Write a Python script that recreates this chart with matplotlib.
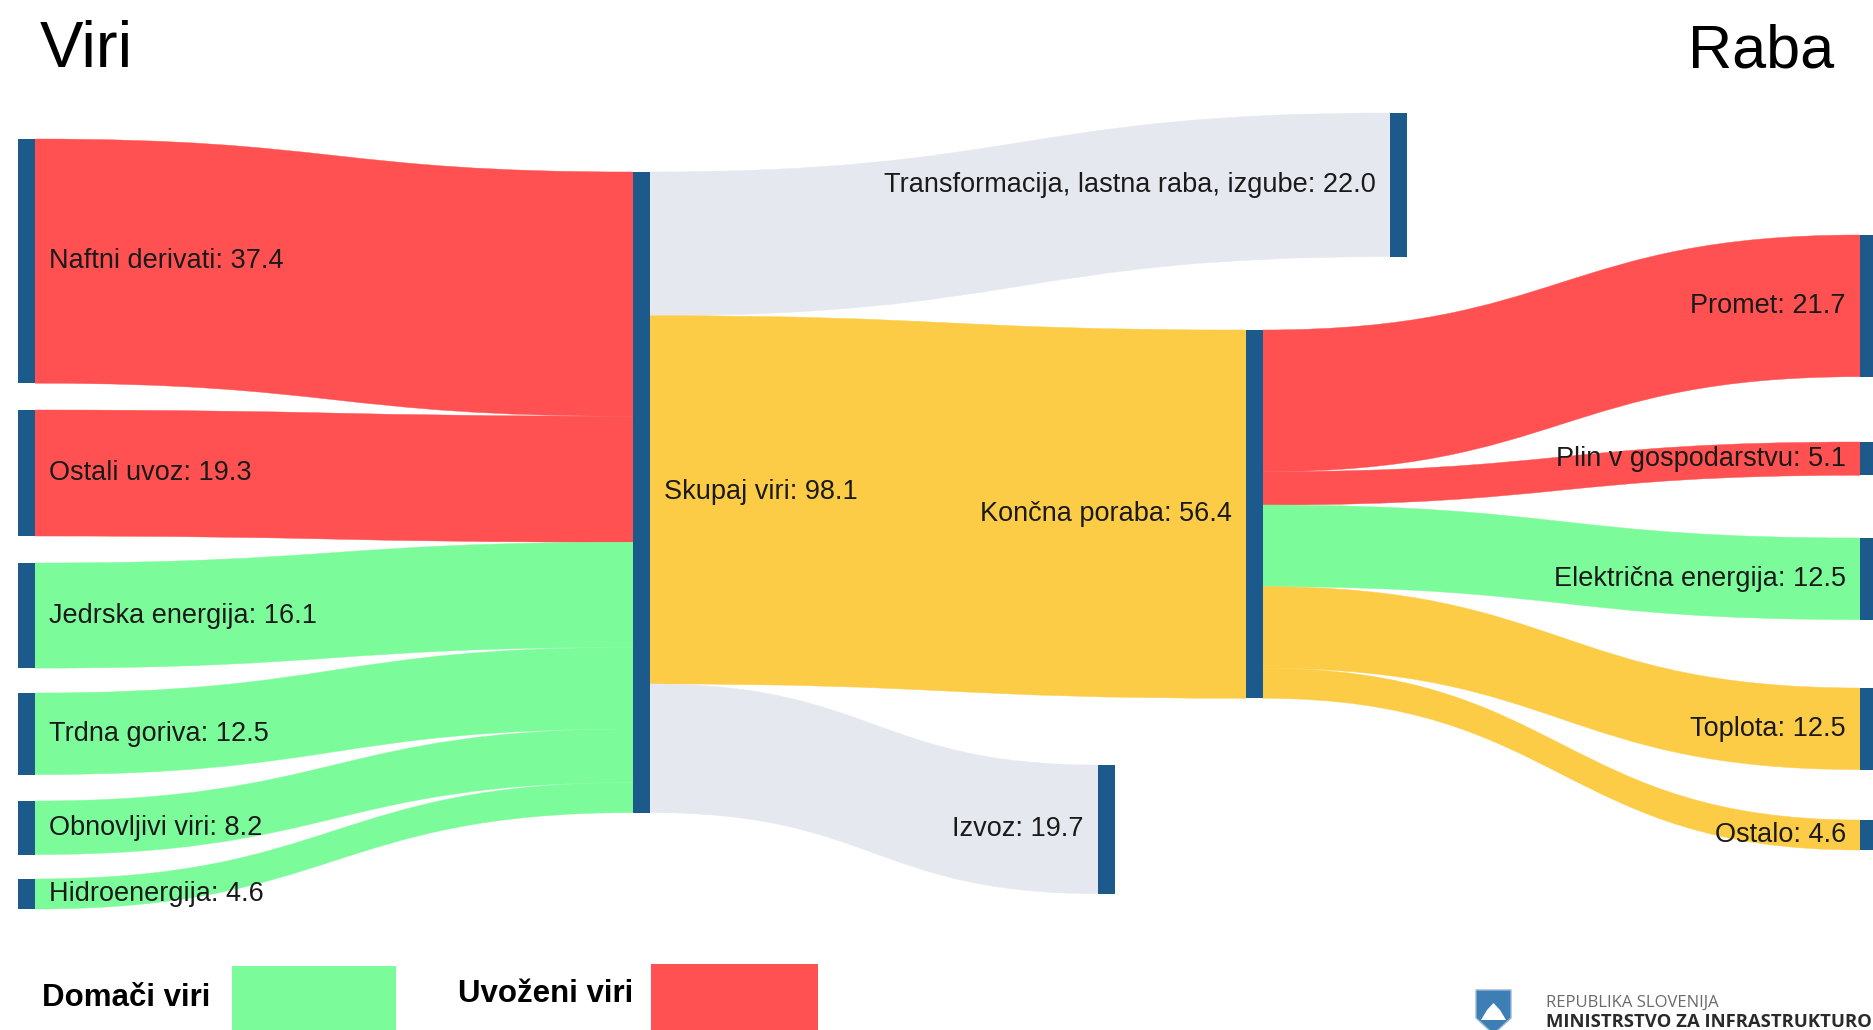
import matplotlib
matplotlib.use("Agg")
import matplotlib.pyplot as plt
from matplotlib.path import Path
from matplotlib.patches import PathPatch, Rectangle, Polygon

# ---------------- data ----------------
source_labels = ["Naftni derivati", "Ostali uvoz", "Jedrska energija",
                 "Trdna goriva", "Obnovljivi viri", "Hidroenergija"]
source_values = [37.4, 19.3, 16.1, 12.5, 8.2, 4.6]
source_kind = ["uvoz", "uvoz", "domace", "domace", "domace", "domace"]

total_label = "Skupaj viri"
total_value = 98.1

split_labels = ["Transformacija, lastna raba, izgube", "Končna poraba", "Izvoz"]
split_values = [22.0, 56.4, 19.7]
split_kind = ["izguba", "poraba", "izguba"]

use_labels = ["Promet", "Plin v gospodarstvu", "Električna energija", "Toplota", "Ostalo"]
use_values = [21.7, 5.1, 12.5, 12.5, 4.6]
use_kind = ["uvoz", "uvoz", "domace", "poraba", "poraba"]

titles = ["Viri", "Raba"]
legend_labels = ["Domači viri", "Uvoženi viri"]
logo_lines = ["REPUBLIKA SLOVENIJA", "MINISTRSTVO ZA INFRASTRUKTURO"]

# ---------------- style / layout ----------------
colors = {"uvoz": "#FF5151", "domace": "#7CFB9B", "poraba": "#FDCC46", "izguba": "#E5E8EF"}
NODE_COLOR = "#1C5A8B"
TEXT_COLOR = "#1A1A1A"
FONT = ["Liberation Sans", "DejaVu Sans"]
PX = 6.53          # pixels per unit
NODE_W = 17
LABEL_PAD = 14
W, H = 1873, 1030

src_x, src_tops = 18, [139, 410, 563, 693, 801, 879]
tot_x, tot_top = 633, 172
split_x, split_tops = [1390, 1246, 1098], [113, 330, 765]
use_x, use_tops = 1860, [235, 442, 538, 688, 820]

fig = plt.figure(figsize=(W / 100, H / 100), dpi=100)
ax = fig.add_axes([0, 0, 1, 1])
ax.set_xlim(0, W)
ax.set_ylim(H, 0)
ax.axis("off")

# nodes
nodes = {}
def add_node(key, label, value, x, top, side):
    nodes[key] = dict(label=label, value=value, x=x, top=top, h=value * PX,
                      side=side, out=0.0, inn=0.0)

for i, (lab, v) in enumerate(zip(source_labels, source_values)):
    add_node(("s", i), lab, v, src_x, src_tops[i], "right")
add_node("tot", total_label, total_value, tot_x, tot_top, "right")
for i, (lab, v) in enumerate(zip(split_labels, split_values)):
    add_node(("p", i), lab, v, split_x[i], split_tops[i], "left")
for i, (lab, v) in enumerate(zip(use_labels, use_values)):
    add_node(("u", i), lab, v, use_x, use_tops[i], "left")

links = []
for i, v in enumerate(source_values):
    links.append((("s", i), "tot", v, colors[source_kind[i]]))
for i, v in enumerate(split_values):
    links.append(("tot", ("p", i), v, colors[split_kind[i]]))
for i, v in enumerate(use_values):
    links.append((("p", 1), ("u", i), v, colors[use_kind[i]]))

def band(x0, y0, x1, y1, h, color):
    xm = (x0 + x1) / 2
    verts = [(x0, y0), (xm, y0), (xm, y1), (x1, y1), (x1, y1 + h),
             (xm, y1 + h), (xm, y0 + h), (x0, y0 + h), (x0, y0)]
    codes = [Path.MOVETO, Path.CURVE4, Path.CURVE4, Path.CURVE4, Path.LINETO,
             Path.CURVE4, Path.CURVE4, Path.CURVE4, Path.CLOSEPOLY]
    ax.add_patch(PathPatch(Path(verts, codes), facecolor=color, edgecolor=color,
                           lw=0.3, zorder=1))

for s, t, v, c in links:
    ns, nt = nodes[s], nodes[t]
    h = v * PX
    y0 = ns["top"] + ns["out"]
    y1 = nt["top"] + nt["inn"]
    ns["out"] += h
    nt["inn"] += h
    band(ns["x"] + NODE_W, y0, nt["x"], y1, h, c)

for n in nodes.values():
    ax.add_patch(Rectangle((n["x"], n["top"]), NODE_W, n["h"], facecolor=NODE_COLOR,
                           edgecolor="none", zorder=2))
    yc = n["top"] + n["h"] / 2
    txt = f"{n['label']}: {n['value']:.1f}"
    if n["side"] == "right":
        ax.text(n["x"] + NODE_W + LABEL_PAD, yc, txt, ha="left", va="center",
                fontsize=19.5, family=FONT, color=TEXT_COLOR, zorder=3)
    else:
        ax.text(n["x"] - LABEL_PAD, yc, txt, ha="right", va="center",
                fontsize=19.5, family=FONT, color=TEXT_COLOR, zorder=3)

# titles
ax.text(40, 67, titles[0], ha="left", va="baseline", fontsize=47, family=FONT, color="black")
ax.text(1834, 67, titles[1], ha="right", va="baseline", fontsize=44, family=FONT, color="black")

# legend
ax.text(42, 1006, legend_labels[0], ha="left", va="baseline", fontsize=22.5,
        weight="bold", family=FONT, color="black")
ax.add_patch(Rectangle((232, 966), 164, 80, facecolor=colors["domace"], edgecolor="none"))
ax.text(458, 1002, legend_labels[1], ha="left", va="baseline", fontsize=22.5,
        weight="bold", family=FONT, color="black")
ax.add_patch(Rectangle((651, 964), 167, 80, facecolor=colors["uvoz"], edgecolor="none"))

# logo
shield = [(1476, 990), (1511, 990), (1511, 1018), (1493.5, 1034), (1476, 1018)]
ax.add_patch(Polygon(shield, closed=True, facecolor="#3D7FB5", edgecolor="#9BB8D3", lw=1))
ax.add_patch(Polygon([(1481, 1020), (1487, 1010), (1493.5, 1003), (1500, 1010), (1506, 1020)],
                     closed=True, facecolor="white", edgecolor="none"))
ax.text(1546, 1007, logo_lines[0], ha="left", va="baseline", fontsize=12,
        family=["Open Sans", "DejaVu Sans"], color="#6A6A6A")
ax.text(1546, 1027, logo_lines[1], ha="left", va="baseline", fontsize=13.3,
        weight="bold", family=["Open Sans", "DejaVu Sans"], color="#2A2A2A")

fig.savefig("out.png", dpi=100, facecolor="white")
